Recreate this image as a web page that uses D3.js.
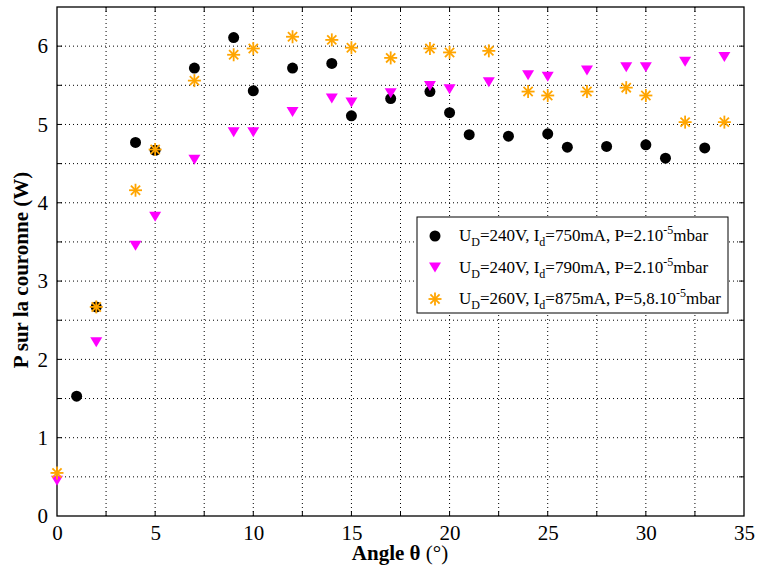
<!DOCTYPE html>
<html><head><meta charset="utf-8">
<script src="https://cdn.jsdelivr.net/npm/d3@7"></script>
<style>body{margin:0;background:#fff}svg{display:block}text{font-family:"Liberation Serif","Times New Roman",serif}</style>
</head><body>
<svg id="c" width="757" height="568"></svg>
<script>
const xBlack = [1,2,4,5,7,9,10,12,14,15,17,19,20,21,23,25,26,28,30,31,33];
const yBlack = [1.53,2.67,4.77,4.67,5.72,6.11,5.43,5.72,5.78,5.11,5.33,5.42,5.15,4.87,4.85,4.88,4.71,4.72,4.74,4.57,4.70];
const xMag = [0,2,4,5,7,9,10,12,14,15,17,19,20,22,24,25,27,29,30,32,34];
const yMag = [0.45,2.22,3.45,3.82,4.55,4.90,4.90,5.16,5.33,5.28,5.40,5.49,5.45,5.54,5.63,5.61,5.69,5.73,5.73,5.80,5.86];
const xOr = [0,2,4,5,7,9,10,12,14,15,17,19,20,22,24,25,27,29,30,32,34];
const yOr = [0.55,2.67,4.16,4.68,5.56,5.89,5.97,6.12,6.08,5.98,5.85,5.97,5.92,5.94,5.42,5.37,5.42,5.47,5.37,5.03,5.03];
const xTicks = [0,5,10,15,20,25,30,35];
const yTicks = [0,1,2,3,4,5,6];
const seriesNames = ["240V|750mA|2.10", "240V|790mA|2.10", "260V|875mA|5,8.10"];

const svg = d3.select("#c");
const L=57,R=744,T=7,B=516;
const x = d3.scaleLinear().domain([0,35]).range([L,R]);
const y = d3.scaleLinear().domain([0,6.5]).range([B,T]);

// grid
const g = svg.append("g");
d3.range(2.5,35,2.5).forEach(v=>g.append("line").attr("x1",x(v)).attr("x2",x(v)).attr("y1",T).attr("y2",B)
  .attr("stroke","#000").attr("stroke-width",1).attr("stroke-dasharray","1,3"));
d3.range(0.5,6.5,0.5).forEach(v=>g.append("line").attr("x1",L).attr("x2",R).attr("y1",y(v)).attr("y2",y(v))
  .attr("stroke","#000").attr("stroke-width",1).attr("stroke-dasharray","1,3"));

// axes
const xa = svg.append("g").attr("transform",`translate(0,${B})`).call(d3.axisBottom(x).tickValues(xTicks).tickFormat(d3.format("d")).tickSize(0).tickPadding(7));
const ya = svg.append("g").attr("transform",`translate(${L},0)`).call(d3.axisLeft(y).tickValues(yTicks).tickFormat(d3.format("d")).tickSize(0).tickPadding(9));
[xa,ya].forEach(a=>{a.attr("font-family",null);a.select(".domain").remove();a.selectAll("text").attr("font-size",21).attr("fill","#000");});
xa.selectAll("text").attr("dy","0.8em");
// inward ticks
d3.range(2.5,35,2.5).forEach(v=>{
  svg.append("line").attr("x1",x(v)).attr("x2",x(v)).attr("y1",B).attr("y2",B-5).attr("stroke","#000");
  svg.append("line").attr("x1",x(v)).attr("x2",x(v)).attr("y1",T).attr("y2",T+5).attr("stroke","#000");
});
d3.range(0.5,6.5,0.5).forEach(v=>{
  svg.append("line").attr("x1",L).attr("x2",L+5).attr("y1",y(v)).attr("y2",y(v)).attr("stroke","#000");
  svg.append("line").attr("x1",R).attr("x2",R-5).attr("y1",y(v)).attr("y2",y(v)).attr("stroke","#000");
});
svg.append("rect").attr("x",L).attr("y",T).attr("width",R-L).attr("height",B-T).attr("fill","none").attr("stroke","#000").attr("stroke-width",1.3);

// markers
function circ(sel){sel.append("circle").attr("r",5.5).attr("fill","#000");}
function tri(sel){sel.append("path").attr("d","M-6,-5L6,-5L0,5Z").attr("fill","#FF00FF");}
function star(sel){
  const r=6.5;
  [0,45,90,135].forEach(a=>{const rad=a*Math.PI/180;
    sel.append("line").attr("x1",-r*Math.cos(rad)).attr("y1",-r*Math.sin(rad)).attr("x2",r*Math.cos(rad)).attr("y2",r*Math.sin(rad))
      .attr("stroke","#FFA500").attr("stroke-width",1.8);});
}
const pts = svg.append("g");
xBlack.forEach((v,i)=>circ(pts.append("g").attr("transform",`translate(${x(v)},${y(yBlack[i])})`)));
xMag.forEach((v,i)=>tri(pts.append("g").attr("transform",`translate(${x(v)},${y(yMag[i])})`)));
xOr.forEach((v,i)=>star(pts.append("g").attr("transform",`translate(${x(v)},${y(yOr[i])})`)));

// legend
const lg = svg.append("g");
lg.append("rect").attr("x",417).attr("y",217).attr("width",311).attr("height",96).attr("fill","#fff").attr("stroke","#000").attr("stroke-width",1);
const mk=[circ,tri,star];
seriesNames.forEach((s,i)=>{
  const yy=236+i*31.5;
  mk[i](lg.append("g").attr("transform",`translate(435,${yy})`));
  const [u,id,p]=s.split("|");
  const t=lg.append("text").attr("x",459).attr("y",yy+5).attr("font-size",17).attr("fill","#000");
  t.append("tspan").text("U");
  t.append("tspan").attr("dy",5).attr("font-size",12).text("D");
  t.append("tspan").attr("dy",-5).text("="+u+", I");
  t.append("tspan").attr("dy",5).attr("font-size",12).text("d");
  t.append("tspan").attr("dy",-5).text("="+id+", P="+p);
  t.append("tspan").attr("dy",-7).attr("font-size",12).text("-5");
  t.append("tspan").attr("dy",7).text("mbar");
});

// axis titles
svg.append("text").attr("x",400).attr("y",560).attr("text-anchor","middle").attr("font-size",21)
  .html('<tspan font-weight="bold">Angle θ</tspan> (°)');
svg.append("text").attr("transform","translate(28,270) rotate(-90)").attr("text-anchor","middle").attr("font-size",21)
  .attr("font-weight","bold").text("P sur la couronne (W)");
</script>
</body></html>
